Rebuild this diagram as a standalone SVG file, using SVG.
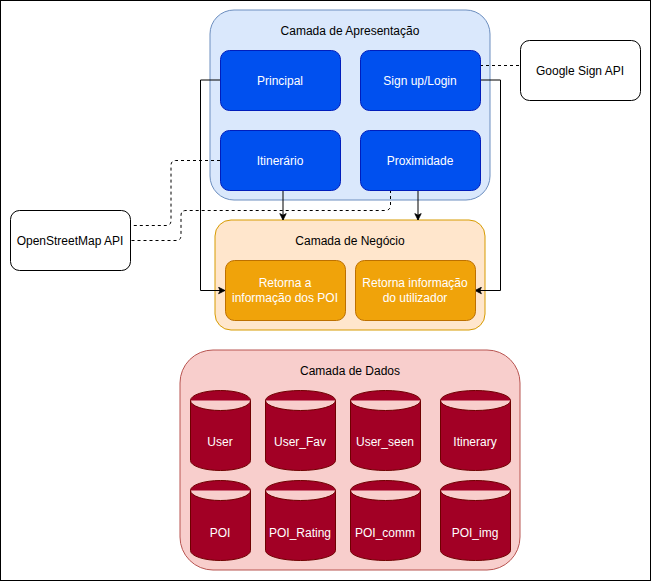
<svg xmlns="http://www.w3.org/2000/svg" width="651" height="581" viewBox="0 0 651 581">
<style>
text{font-family:"Liberation Sans",Arial,sans-serif;font-size:12px;text-anchor:middle}
.w{fill:#ffffff}
.k{fill:#000000}
.ui{fill:#0050ef;stroke:#001dbc}
.biz{fill:#f0a30a;stroke:#bd7000}
.db{fill:#a20025;stroke:#6f0000}
.api{fill:#ffffff;stroke:#000000}
.edge{fill:none;stroke:#000000;stroke-width:1}
.dash{fill:none;stroke:#000000;stroke-width:1;stroke-dasharray:3 3}
</style>
<defs>
<marker id="arr" viewBox="0 0 10 10" refX="9" refY="5" markerWidth="8" markerHeight="8" markerUnits="userSpaceOnUse" orient="auto">
<path d="M1,1 L9,5 L1,9 L3,5 Z" fill="#000" stroke="#000" stroke-width="1"/>
</marker>
</defs>
<rect x="0.5" y="0.5" width="650" height="580" fill="#ffffff" stroke="#000000"/>

<g id="camada-apresentacao">
<rect x="210" y="10" width="280" height="190" rx="24" fill="#dae8fc" stroke="#6c8ebf"/>
<text x="350" y="35" class="k">Camada de Apresentação</text>
</g>
<g id="camada-negocio">
<rect x="215" y="220" width="270" height="110" rx="16" fill="#ffe6cc" stroke="#d79b00"/>
<text x="350" y="245" class="k">Camada de Negócio</text>
</g>
<g id="camada-dados">
<rect x="180" y="350" width="340" height="220" rx="33" fill="#f8cecc" stroke="#b85450"/>
<text x="350" y="375" class="k">Camada de Dados</text>
</g>

<g id="connectors">
<path class="edge" d="M220,80 L200.5,80 L200.5,290.5 L225,290.5" marker-end="url(#arr)"/>
<path class="edge" d="M480,80 L500.5,80 L500.5,290.5 L475,290.5" marker-end="url(#arr)"/>
<path class="edge" d="M283,190 L283,220" marker-end="url(#arr)"/>
<path class="edge" d="M418,190 L418,220" marker-end="url(#arr)"/>
<path class="dash" d="M220,160.5 L176,160.5 Q171,160.5 171,165.5 L171,220.5 Q171,225.5 166,225.5 L130,225.5"/>
<path class="dash" d="M390.5,190 L390.5,205 Q390.5,210.5 385,210.5 L186,210.5 Q181,210.5 181,215.5 L181,235.5 Q181,240.5 176,240.5 L130,240.5"/>
<path class="dash" d="M480,65.5 L520,65.5"/>
</g>

<g id="principal">
<rect x="220.5" y="50.5" width="120" height="60" rx="9" class="ui"/>
<text x="280" y="85" class="w">Principal</text>
</g>
<g id="signup-login">
<rect x="360.5" y="50.5" width="120" height="60" rx="9" class="ui"/>
<text x="420" y="85" class="w">Sign up/Login</text>
</g>
<g id="itinerario">
<rect x="220.5" y="130.5" width="120" height="60" rx="9" class="ui"/>
<text x="280" y="165" class="w">Itinerário</text>
</g>
<g id="proximidade">
<rect x="360.5" y="130.5" width="120" height="60" rx="9" class="ui"/>
<text x="420" y="165" class="w">Proximidade</text>
</g>

<g id="retorna-poi">
<rect x="225.5" y="260.5" width="120" height="60" rx="9" class="biz"/>
<text x="285" y="287" class="w">Retorna a</text>
<text x="285" y="302" class="w">informação dos POI</text>
</g>
<g id="retorna-utilizador">
<rect x="355.5" y="260.5" width="120" height="60" rx="9" class="biz"/>
<text x="415" y="287" class="w">Retorna informação</text>
<text x="415" y="302" class="w">do utilizador</text>
</g>

<g id="openstreetmap-api">
<rect x="10.5" y="210.5" width="120" height="60" rx="9" class="api"/>
<text x="70" y="245" class="k">OpenStreetMap API</text>
</g>
<g id="google-sign-api">
<rect x="520.5" y="40.5" width="120" height="60" rx="9" class="api"/>
<text x="580" y="75" class="k">Google Sign API</text>
</g>

<g id="db-user">
<path class="db" d="M190.5,400.5 A30,10 0 0 1 250.5,400.5 L250.5,460.5 A30,10 0 0 1 190.5,460.5 Z M190.5,400.5 A30,10 0 0 0 250.5,400.5"/>
<text x="220" y="446" class="w">User</text>
</g>
<g id="db-user-fav">
<path class="db" d="M265.5,400.5 A35,10 0 0 1 335.5,400.5 L335.5,460.5 A35,10 0 0 1 265.5,460.5 Z M265.5,400.5 A35,10 0 0 0 335.5,400.5"/>
<text x="300" y="446" class="w">User_Fav</text>
</g>
<g id="db-user-seen">
<path class="db" d="M350.5,400.5 A35,10 0 0 1 420.5,400.5 L420.5,460.5 A35,10 0 0 1 350.5,460.5 Z M350.5,400.5 A35,10 0 0 0 420.5,400.5"/>
<text x="385" y="446" class="w">User_seen</text>
</g>
<g id="db-itinerary">
<path class="db" d="M440.5,400.5 A35,10 0 0 1 510.5,400.5 L510.5,460.5 A35,10 0 0 1 440.5,460.5 Z M440.5,400.5 A35,10 0 0 0 510.5,400.5"/>
<text x="475" y="446" class="w">Itinerary</text>
</g>
<g id="db-poi">
<path class="db" d="M190.5,490.5 A30,10 0 0 1 250.5,490.5 L250.5,550.5 A30,10 0 0 1 190.5,550.5 Z M190.5,490.5 A30,10 0 0 0 250.5,490.5"/>
<text x="220" y="537" class="w">POI</text>
</g>
<g id="db-poi-rating">
<path class="db" d="M265.5,490.5 A35,10 0 0 1 335.5,490.5 L335.5,550.5 A35,10 0 0 1 265.5,550.5 Z M265.5,490.5 A35,10 0 0 0 335.5,490.5"/>
<text x="300" y="537" class="w">POI_Rating</text>
</g>
<g id="db-poi-comm">
<path class="db" d="M350.5,490.5 A35,10 0 0 1 420.5,490.5 L420.5,550.5 A35,10 0 0 1 350.5,550.5 Z M350.5,490.5 A35,10 0 0 0 420.5,490.5"/>
<text x="385" y="537" class="w">POI_comm</text>
</g>
<g id="db-poi-img">
<path class="db" d="M440.5,490.5 A35,10 0 0 1 510.5,490.5 L510.5,550.5 A35,10 0 0 1 440.5,550.5 Z M440.5,490.5 A35,10 0 0 0 510.5,490.5"/>
<text x="475" y="537" class="w">POI_img</text>
</g>
</svg>
